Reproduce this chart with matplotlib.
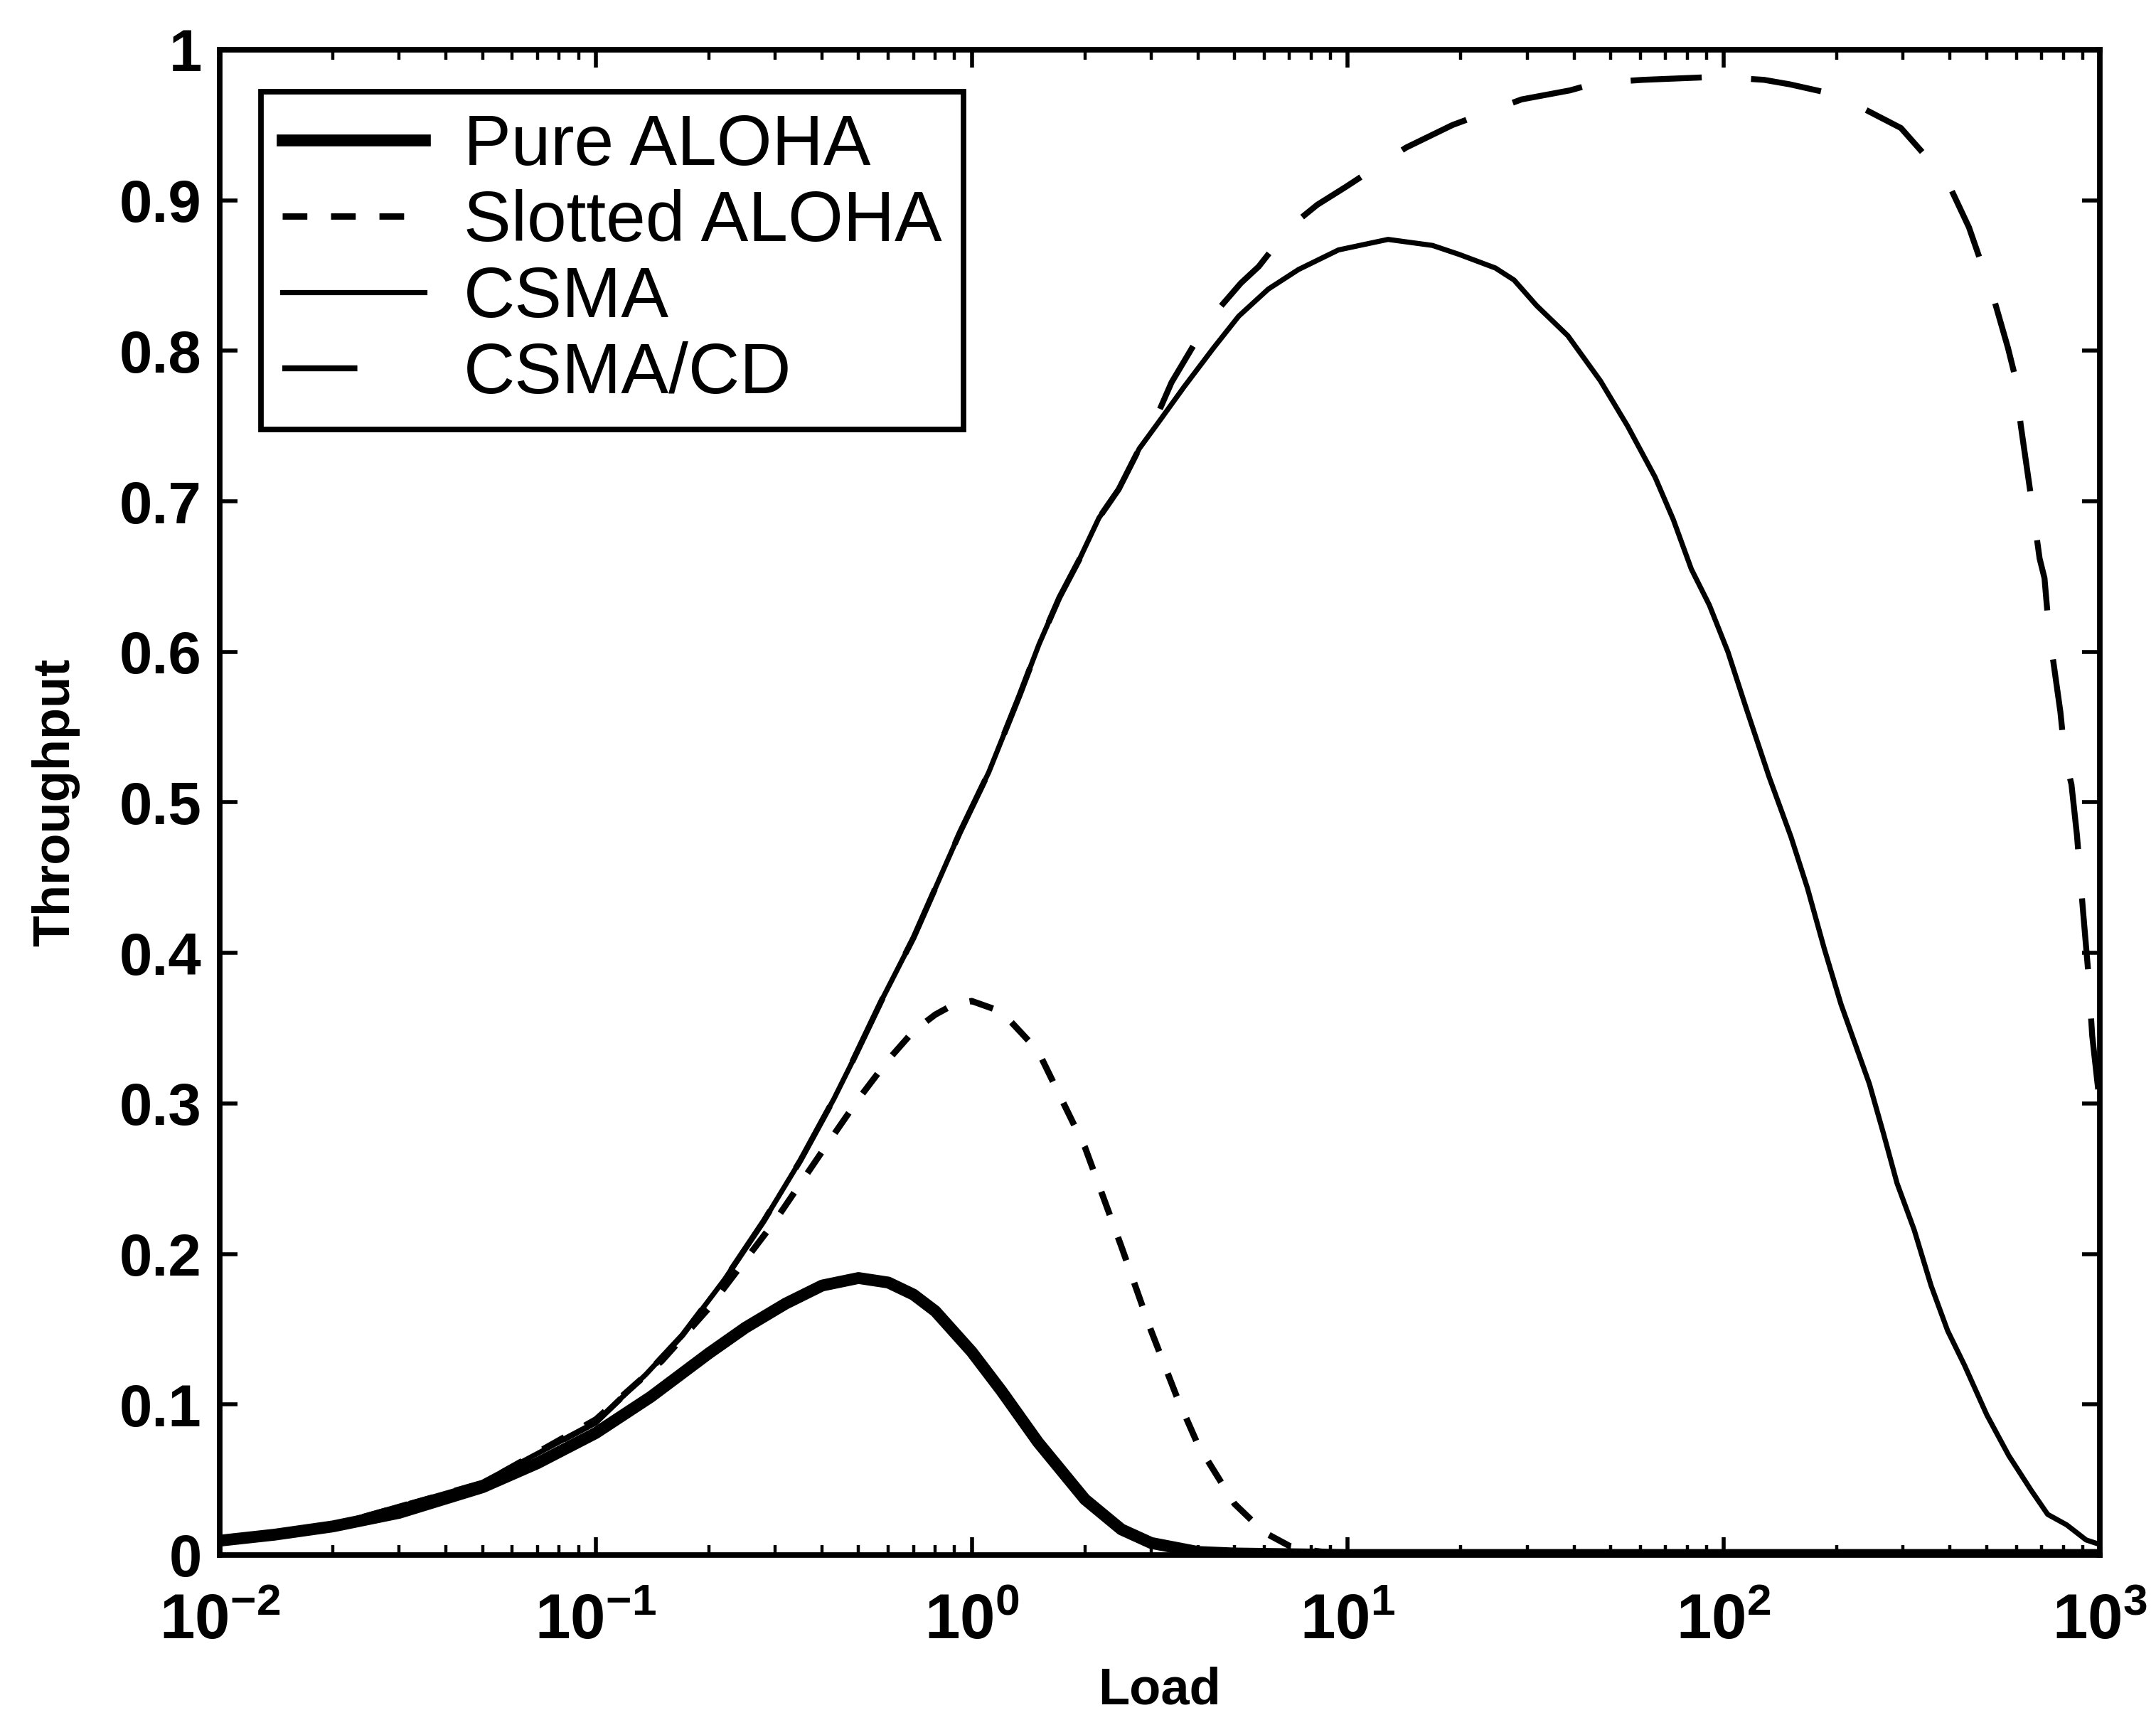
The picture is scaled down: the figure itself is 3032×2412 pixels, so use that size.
import numpy as np
import matplotlib
matplotlib.use('Agg')
import matplotlib.pyplot as plt
from matplotlib.lines import Line2D
from matplotlib.ticker import LogLocator, NullFormatter

# values
pure_load = [0.01, 0.014, 0.02, 0.03, 0.05, 0.07, 0.1, 0.14, 0.2, 0.25, 0.32, 0.4, 0.5, 0.6,
             0.7, 0.8, 1.0, 1.2, 1.5, 2.0, 2.5, 3.0, 4.0, 5.0, 10, 100, 1000]
pure_tp = [0.0095, 0.0135, 0.019, 0.028, 0.045, 0.061, 0.081, 0.105, 0.134, 0.151, 0.167, 0.179,
           0.184, 0.181, 0.173, 0.162, 0.135, 0.109, 0.075, 0.037, 0.017, 0.008, 0.002, 0.001,
           0.0, 0.0, 0.0]

slot_load = [0.01, 0.02, 0.05, 0.1, 0.15, 0.2, 0.3, 0.4, 0.5, 0.6, 0.7, 0.8, 0.9, 1.0, 1.2,
             1.5, 2.0, 2.5, 3.0, 3.5, 4.0, 5.0, 6.0, 7.0, 8.0, 10, 100, 1000]
slot_tp = [0.0099, 0.0196, 0.0475, 0.09, 0.129, 0.164, 0.222, 0.268, 0.303, 0.329, 0.348, 0.359,
           0.366, 0.368, 0.361, 0.335, 0.271, 0.205, 0.149, 0.106, 0.073, 0.034, 0.015, 0.006,
           0.003, 0.0, 0.0, 0.0]

csma_load = [0.01, 0.02, 0.05, 0.1, 0.136, 0.17, 0.22, 0.28, 0.35, 0.43, 0.48, 0.58, 0.7, 0.93,
             1.11, 1.34, 1.51, 1.71, 1.93, 2.18, 2.46, 2.79, 3.15, 3.67, 4.4, 5.13, 6.15, 7.4,
             9.45, 12.8, 16.8, 19.8, 24.7, 27.7, 31.8, 38.5, 47, 55.5, 65.7, 73.4, 82, 91.6,
             102.6, 114.6, 132, 151, 167, 185, 205, 224, 244, 266, 289, 321, 356, 394, 437, 501,
             573, 657, 727, 817, 920, 1000]
csma_tp = [0.0098, 0.0195, 0.048, 0.088, 0.12, 0.146, 0.183, 0.222, 0.262, 0.303, 0.327, 0.37,
           0.41, 0.48, 0.52, 0.571, 0.605, 0.636, 0.661, 0.689, 0.708, 0.735, 0.753, 0.776,
           0.802, 0.823, 0.841, 0.854, 0.867, 0.874, 0.87, 0.864, 0.855, 0.847, 0.83, 0.81,
           0.78, 0.75, 0.716, 0.688, 0.655, 0.631, 0.6, 0.563, 0.517, 0.477, 0.443, 0.403,
           0.366, 0.339, 0.313, 0.28, 0.247, 0.216, 0.179, 0.149, 0.126, 0.093, 0.066, 0.043,
           0.027, 0.02, 0.01, 0.007]

cd_load = [0.01, 0.02, 0.05, 0.1, 0.136, 0.17, 0.22, 0.28, 0.35, 0.43, 0.48, 0.58, 0.7, 0.93,
           1.11, 1.34, 1.51, 1.71, 1.93, 2.18, 2.46, 2.79, 3.15, 3.4, 3.9, 4.33, 5.2, 5.8, 7.0,
           8.3, 9.9, 12.4, 14.3, 19, 29, 39, 46, 61, 96, 128, 150, 200, 296, 360, 396, 449, 525,
           570, 594, 617, 661, 692, 713, 733, 786, 809, 841, 870, 902, 930, 955, 1000]
cd_tp = [0.0098, 0.0195, 0.048, 0.088, 0.12, 0.146, 0.183, 0.222, 0.262, 0.303, 0.327, 0.37,
         0.41, 0.48, 0.52, 0.571, 0.605, 0.636, 0.661, 0.689, 0.708, 0.735, 0.76, 0.779, 0.804,
         0.822, 0.845, 0.856, 0.882, 0.897, 0.909, 0.925, 0.935, 0.95, 0.967, 0.973, 0.978,
         0.98, 0.982, 0.98, 0.977, 0.97, 0.948, 0.924, 0.911, 0.882, 0.833, 0.802, 0.784,
         0.75, 0.698, 0.662, 0.649, 0.614, 0.56, 0.529, 0.512, 0.478, 0.429, 0.39, 0.345, 0.3]

x_ticks = [0.01, 0.1, 1, 10, 100, 1000]
x_tick_labels = [r'$10^{-2}$', r'$10^{-1}$', r'$10^{0}$', r'$10^{1}$', r'$10^{2}$', r'$10^{3}$']
y_ticks = [0, 0.1, 0.2, 0.3, 0.4, 0.5, 0.6, 0.7, 0.8, 0.9, 1]
y_tick_labels = ['0', '0.1', '0.2', '0.3', '0.4', '0.5', '0.6', '0.7', '0.8', '0.9', '1']
series_names = ['Pure ALOHA', 'Slotted ALOHA', 'CSMA', 'CSMA/CD']

plt.rcParams['font.family'] = ['Liberation Sans', 'DejaVu Sans']
plt.rcParams['font.weight'] = 'bold'
plt.rcParams['mathtext.fontset'] = 'custom'
plt.rcParams['mathtext.rm'] = 'Liberation Sans:bold'
plt.rcParams['mathtext.it'] = 'Liberation Sans:bold'
plt.rcParams['mathtext.bf'] = 'Liberation Sans:bold'
plt.rcParams['lines.scale_dashes'] = False

fig = plt.figure(figsize=(15.16, 12.06), dpi=200)
ax = fig.add_axes([0.1019, 0.0933, 0.872, 0.8777])

ax.plot(pure_load, pure_tp, color='k', lw=6)
ax.plot(slot_load, slot_tp, color='k', lw=3.2, dashes=(12.5, 12))
ax.plot(csma_load, csma_tp, color='k', lw=2.6)
ax.plot(cd_load, cd_tp, color='k', lw=3.0, dashes=(36, 25))

ax.set_xscale('log')
ax.set_xlim(0.01, 1000)
ax.set_ylim(0, 1)
ax.set_xticks(x_ticks)
ax.set_xticklabels(x_tick_labels)
ax.xaxis.set_minor_locator(LogLocator(base=10, subs=range(2, 10)))
ax.xaxis.set_minor_formatter(NullFormatter())
ax.set_yticks(y_ticks)
ax.set_yticklabels(y_tick_labels)

ax.tick_params(which='major', direction='in', top=True, right=True, length=9, width=2)
ax.tick_params(which='minor', direction='in', top=True, right=True, length=5, width=1.6)
ax.tick_params(axis='y', labelsize=30, pad=9)
ax.tick_params(axis='x', labelsize=32, pad=19)
for s in ax.spines.values():
    s.set_linewidth(2.8)

ax.set_xlabel('Load', fontsize=26, fontweight='bold', labelpad=7)
ax.set_ylabel('Throughput', fontsize=26, fontweight='bold', labelpad=20)

# legend handles: CSMA/CD shows a single long dash like the original
handles = [Line2D([], [], color='k', lw=6),
           Line2D([], [], color='k', lw=3.2, dashes=(12.5, 12)),
           Line2D([], [], color='k', lw=2.6),
           Line2D([], [], color='k', lw=3.0, dashes=(38, 60))]
leg = ax.legend(handles, series_names, loc='upper left',
                bbox_to_anchor=(367 / 3032, 1 - 129 / 2412), bbox_transform=fig.transFigure,
                prop={'family': 'Liberation Sans', 'weight': 'normal', 'size': 36},
                frameon=True, fancybox=False, edgecolor='k', framealpha=1,
                borderpad=0.3, labelspacing=0.13, handlelength=2.0, handletextpad=0.55,
                borderaxespad=0)
leg.get_frame().set_linewidth(2.8)

fig.savefig('out.png', dpi=200, facecolor='white')
